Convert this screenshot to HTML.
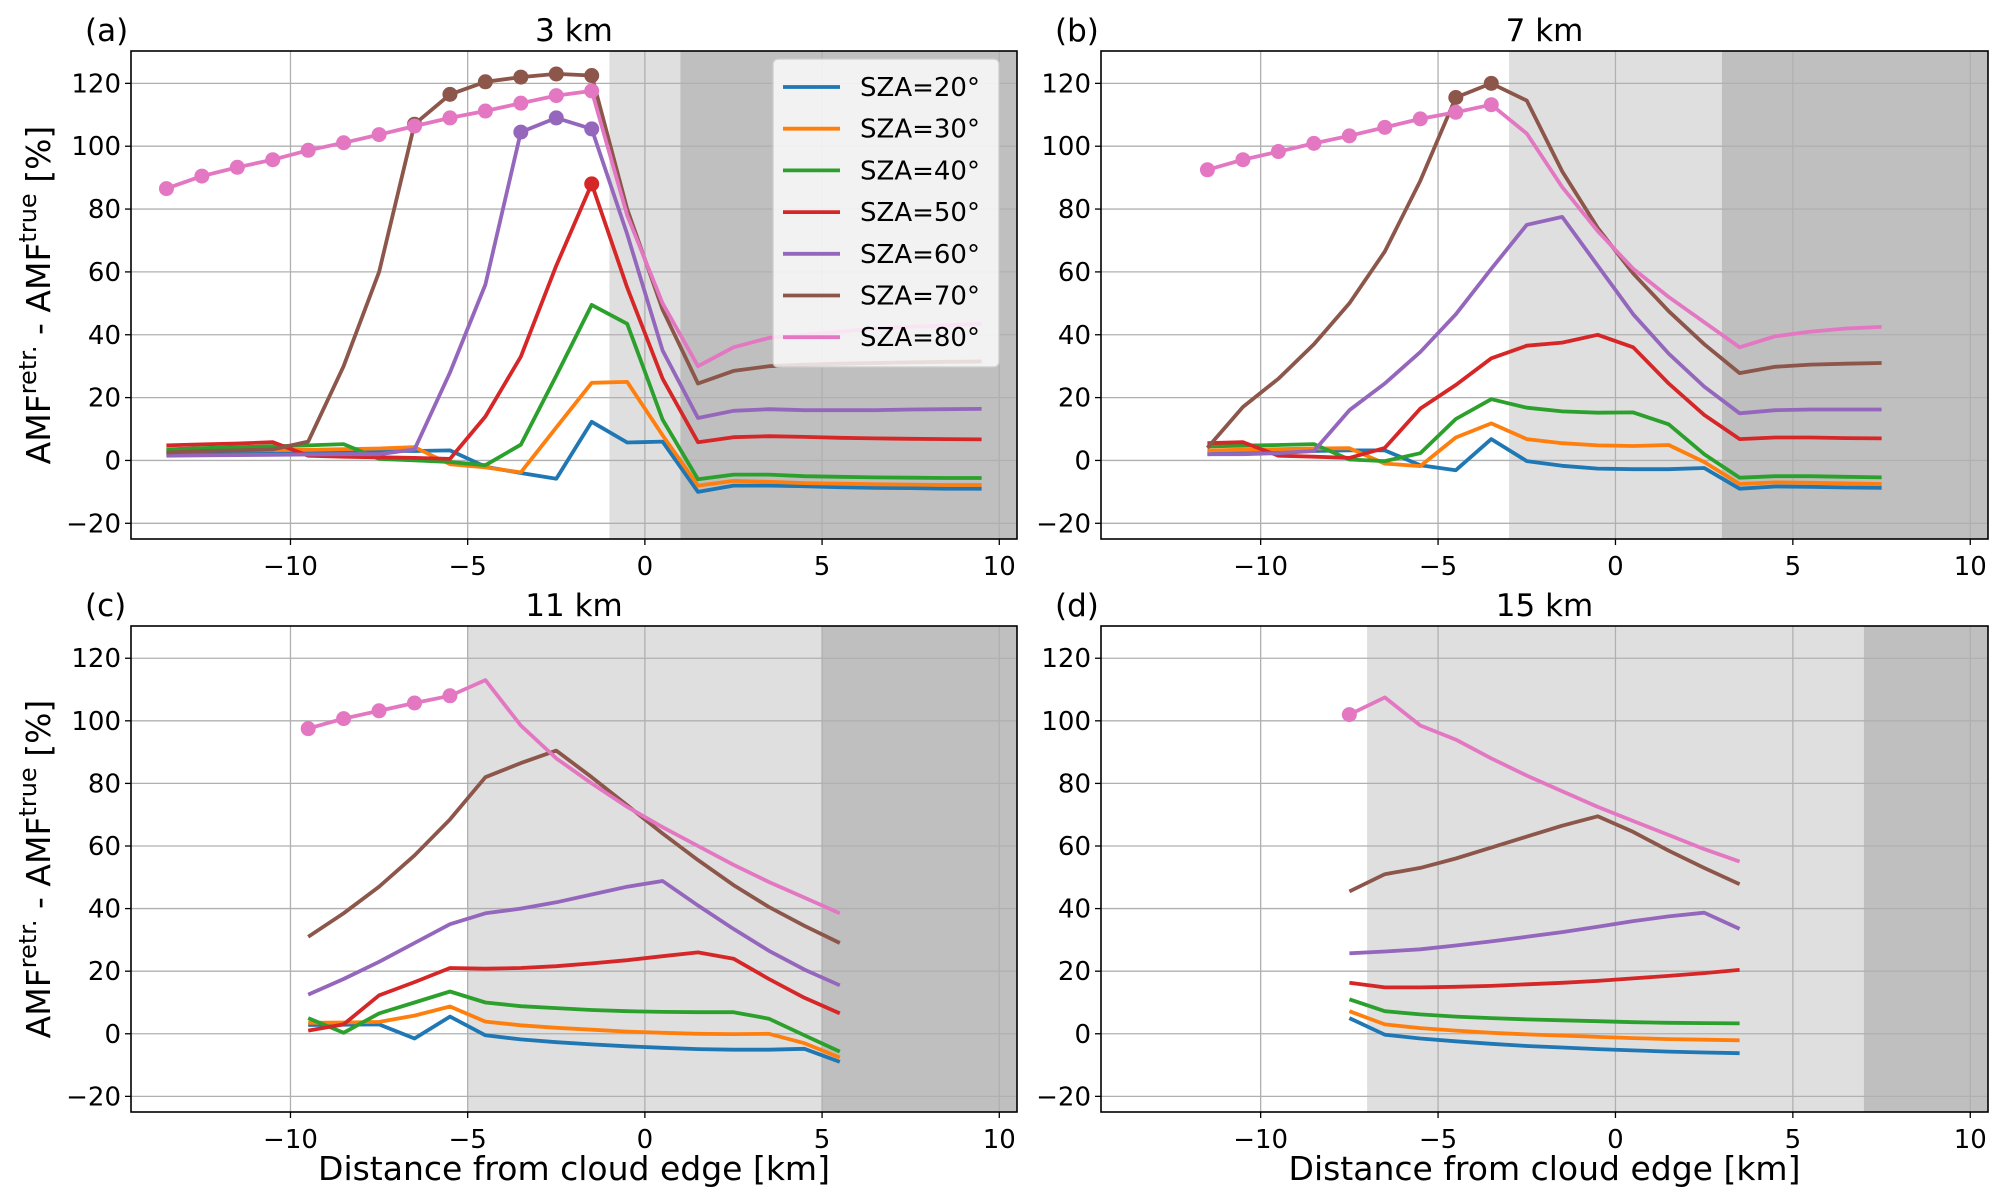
<!DOCTYPE html>
<html><head><meta charset="utf-8">
<style>
html,body{margin:0;padding:0;background:#fff;}
svg{display:block;font-family:"DejaVu Sans","Liberation Sans",sans-serif;}
</style></head>
<body>
<svg id="fig" width="2003" height="1204" viewBox="0 0 2003 1204" xmlns="http://www.w3.org/2000/svg"></svg>
<script>
// ---- data ----
const szaLabels = ["SZA=20°","SZA=30°","SZA=40°","SZA=50°","SZA=60°","SZA=70°","SZA=80°"];
const colors = ["#1f77b4","#ff7f0e","#2ca02c","#d62728","#9467bd","#8c564b","#e377c2"];
const yTicks = [-20,0,20,40,60,80,100,120];
const xTicks = [-10,-5,0,5,10];
const titles = ["3 km","7 km","11 km","15 km"];
const letters = ["(a)","(b)","(c)","(d)"];
const shadeLight = [[-1,1],[-3,3],[-5,5],[-7,7]];
const shadeDark = [[1,10.5],[3,10.5],[5,10.5],[7,10.5]];
const xStart = [-13.5,-11.5,-9.5,-7.5];

const a20=[2,2.2,2.4,2.6,2.8,3,3,3,3.2,-2,-4,-5.8,12.3,5.7,6,-10,-8,-8,-8.2,-8.5,-8.7,-8.8,-9,-9];
const a30=[3,3.1,3.2,3.3,3.4,3.6,3.8,4.2,-1.2,-2.2,-3.8,10.5,24.7,25,8,-8,-6.5,-6.8,-7.2,-7.4,-7.6,-7.7,-7.8,-7.8];
const a40=[3.5,3.9,4.2,4.5,4.8,5.2,0.5,0,-0.5,-1.5,5,27,49.5,43.5,13,-6,-4.5,-4.5,-5,-5.2,-5.4,-5.5,-5.6,-5.6];
const a50=[4.8,5.1,5.4,5.8,1.5,1.2,1,0.8,0.5,14,33,62,88,55,26,5.8,7.4,7.7,7.5,7.2,7,6.9,6.8,6.7];
const a60=[1.5,1.6,1.7,1.8,1.9,2,2,3.5,28,56,104.5,109,105.5,72,35,13.5,15.8,16.3,16,16,16,16.2,16.3,16.4];
const a70=[2.5,3,3.2,3.5,6,30,60,107,116.5,120.5,122,123,122.5,80,48,24.5,28.5,30,30.5,30.8,31,31.2,31.4,31.5];
const a80=[86.5,90.5,93.3,95.7,98.7,101.1,103.7,106.4,109,111.2,113.7,116.1,117.6,78,50,30,36,39,40,41,42,42.5,43,43.5];

const b20=[2,2.3,2.6,3,3.2,3.2,-1.5,-3.1,6.8,-0.2,-1.7,-2.6,-2.8,-2.8,-2.4,-9,-8.3,-8.4,-8.6,-8.7];
const b30=[3.2,3.4,3.6,3.8,3.9,-1,-1.8,7.3,11.8,6.8,5.5,4.8,4.6,4.9,-0.5,-7.5,-7,-7.1,-7.3,-7.5];
const b40=[4.5,4.7,4.9,5.2,0.3,-0.2,2.3,13.2,19.5,16.8,15.6,15.2,15.3,11.5,2,-5.5,-5,-5,-5.2,-5.4];
const b50=[5.5,5.8,1.5,1.2,0.8,4,16.5,24,32.5,36.5,37.5,40,36,24.5,14.5,6.8,7.3,7.3,7.1,7];
const b60=[2,2,2.3,3,16,24.5,34.5,46.5,61,75,77.5,62,46.5,34,23.5,15,16,16.2,16.2,16.2];
const b70=[4,17,26,37,50,66.5,89,115.5,120,114.5,92,74,59.5,47.5,37,27.8,29.8,30.5,30.8,31];
const b80=[92.5,95.7,98.3,100.9,103.3,106,108.7,110.8,113.2,104,87,73,61,52,44,36,39.5,41,42,42.5];

const c20=[2.8,2.9,3,-1.5,5.5,-0.5,-1.8,-2.7,-3.4,-4,-4.5,-4.9,-5.1,-5.1,-4.8,-9];
const c30=[3.5,3.6,3.8,5.8,8.7,3.9,2.7,1.9,1.3,0.7,0.3,0,-0.1,0,-3,-7.6];
const c40=[5,0.3,6.5,10,13.5,10,8.8,8.2,7.6,7.2,7,6.9,6.9,4.8,-0.5,-5.7];
const c50=[1,3,12.3,16.5,21,20.8,21,21.6,22.5,23.5,24.8,26,24,17.5,11.5,6.5];
const c60=[12.5,17.5,23,29,35,38.5,40,42,44.5,47,48.8,41,33.5,26.5,20.5,15.5];
const c70=[31,38.5,47,57,68.5,82,86.5,90.5,82,73,64,55.5,47.5,40.5,34.5,29];
const c80=[97.5,100.7,103.2,105.7,108,113,98.5,88,80,72.5,66,60,54,48.5,43.5,38.5];

const d20=[5,-0.3,-1.5,-2.4,-3.2,-3.9,-4.4,-4.9,-5.3,-5.7,-6,-6.2];
const d30=[7.2,3,1.8,1,0.3,-0.2,-0.6,-1,-1.4,-1.7,-1.9,-2.1];
const d40=[11,7.2,6.2,5.5,5,4.6,4.3,4,3.7,3.5,3.4,3.3];
const d50=[16.3,14.8,14.8,15,15.3,15.8,16.3,16.9,17.7,18.5,19.4,20.4];
const d60=[25.7,26.3,27,28.2,29.5,31,32.5,34.2,36,37.5,38.7,33.5];
const d70=[45.5,51,53,56,59.5,63,66.5,69.5,64.5,58.5,53,47.8];
const d80=[102,107.5,98.5,94,88,82.5,77.5,72.5,68,63.5,59,55];

// marker index ranges per panel per series [from,to] inclusive, or null
const markA=[null,null,null,[12,12],[10,12],[7,12],[0,12]];
const markB=[null,null,null,null,null,[7,8],[0,8]];
const markC=[null,null,null,null,null,null,[0,4]];
const markD=[null,null,null,null,null,null,[0,0]];

const panelSeries=[[a20,a30,a40,a50,a60,a70,a80],[b20,b30,b40,b50,b60,b70,b80],[c20,c30,c40,c50,c60,c70,c80],[d20,d30,d40,d50,d60,d70,d80]];
const panelMarks=[markA,markB,markC,markD];

// ---- layout ----
const boxes=[{l:131,r:1017,t:51,b:539},{l:1101,r:1988,t:51,b:539},{l:131,r:1017,t:626,b:1112},{l:1101,r:1988,t:626,b:1112}];
const XMIN=-14.5,XMAX=10.5,YMIN=-25,YMAX=130.3;
const NS="http://www.w3.org/2000/svg";
const svg=document.getElementById('fig');
function mk(tag,attrs,parent){const e=document.createElementNS(NS,tag);for(const k in attrs)e.setAttribute(k,attrs[k]);(parent||svg).appendChild(e);return e;}

boxes.forEach((bx,p)=>{
  const xs=v=>bx.l+(v-XMIN)/(XMAX-XMIN)*(bx.r-bx.l);
  const ys=v=>bx.b-(v-YMIN)/(YMAX-YMIN)*(bx.b-bx.t);
  const g=mk('g',{});
  
  
  const clipId='clip'+p;
  const cp=mk('clipPath',{id:clipId},g);
  mk('rect',{x:bx.l,y:bx.t,width:bx.r-bx.l,height:bx.b-bx.t},cp);
  const sl=mk('rect',{x:xs(shadeLight[p][0]),y:bx.t,width:xs(shadeLight[p][1])-xs(shadeLight[p][0]),height:bx.b-bx.t,fill:'#dfdfdf'},g);
  
  
  const sd=mk('rect',{x:xs(shadeDark[p][0]),y:bx.t,width:xs(shadeDark[p][1])-xs(shadeDark[p][0]),height:bx.b-bx.t,fill:'#bfbfbf'},g);
  
  
  xTicks.forEach(t=>{mk('line',{x1:xs(t),x2:xs(t),y1:bx.t,y2:bx.b,stroke:'#b0b0b0','stroke-width':1.3},g);});
  yTicks.forEach(t=>{mk('line',{x1:bx.l,x2:bx.r,y1:ys(t),y2:ys(t),stroke:'#b0b0b0','stroke-width':1.3},g);});
  const cg=mk('g',{'clip-path':'url(#'+clipId+')'},g);
  panelSeries[p].forEach((vals,si)=>{
    const pts=vals.map((v,i)=>xs(xStart[p]+i).toFixed(1)+','+ys(v).toFixed(1)).join(' ');
    const pl=mk('polyline',{points:pts,fill:'none',stroke:colors[si],'stroke-width':3.8,'stroke-linejoin':'round'},cg);
    
    
    const m=panelMarks[p][si];
    if(m){for(let i=m[0];i<=m[1];i++){
      const c=mk('circle',{cx:xs(xStart[p]+i),cy:ys(vals[i]),r:7.5,fill:colors[si]},cg);
      
      
    }}
  });
  mk('rect',{x:bx.l,y:bx.t,width:bx.r-bx.l,height:bx.b-bx.t,fill:'none',stroke:'#000','stroke-width':1.6},g);
  xTicks.forEach(t=>{
    mk('line',{x1:xs(t),x2:xs(t),y1:bx.b,y2:bx.b+6,stroke:'#000','stroke-width':1.3},g);
    const tx=mk('text',{x:xs(t),y:bx.b+36,'font-size':26,'text-anchor':'middle'},g);
    tx.textContent=t<0?'\u2212'+(-t):String(t);
    
    
  });
  yTicks.forEach(t=>{
    mk('line',{x1:bx.l-6,x2:bx.l,y1:ys(t),y2:ys(t),stroke:'#000','stroke-width':1.3},g);
    const tx=mk('text',{x:bx.l-10,y:ys(t)+9,'font-size':26,'text-anchor':'end'},g);
    tx.textContent=t<0?'\u2212'+(-t):String(t);
    
    
  });
  const ti=mk('text',{x:(bx.l+bx.r)/2,y:bx.t-10,'font-size':31,'text-anchor':'middle'},g);
  ti.textContent=titles[p];
  
  
  const le=mk('text',{x:bx.l-46,y:bx.t-10,'font-size':31},g);
  le.textContent=letters[p];
  
  
  if(p%2===0){
    const yl=mk('text',{x:0,y:0,'font-size':33,'text-anchor':'middle',transform:'translate(50,'+((bx.t+bx.b)/2)+') rotate(-90)'},g);
    yl.innerHTML='AMF<tspan font-size="24" dy="-14">retr.</tspan><tspan dy="14"> - AMF</tspan><tspan font-size="24" dy="-14">true</tspan><tspan dy="14"> [%]</tspan>';
    
    
  }
  if(p>=2){
    const xl=mk('text',{x:(bx.l+bx.r)/2,y:1180,'font-size':33,'text-anchor':'middle'},g);
    xl.textContent='Distance from cloud edge [km]';
    
    
  }
  if(p===0){
    const lg=mk('g',{},g);
    
    
    mk('rect',{x:773,y:59,width:226,height:308,rx:5,fill:'#ffffff','fill-opacity':0.8,stroke:'#cccccc','stroke-width':1.3},lg);
    szaLabels.forEach((lab,i)=>{
      const yy=87+i*41.7;
      const ent=mk('g',{},lg);
      
      
      mk('line',{x1:783,x2:840,y1:yy,y2:yy,stroke:colors[i],'stroke-width':3.8},ent);
      const t=mk('text',{x:860,y:yy+9,'font-size':26},ent);
      t.textContent=lab;
    });
  }
});
</script>
</body></html>
